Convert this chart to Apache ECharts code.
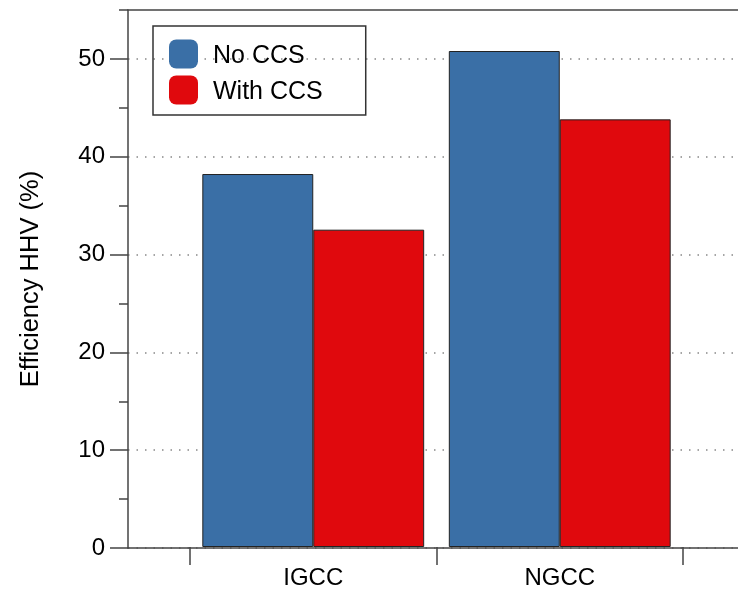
<!DOCTYPE html>
<html>
<head>
<meta charset="utf-8">
<script src="https://cdn.jsdelivr.net/npm/echarts@6/dist/echarts.min.js"></script>
<style>
html,body{margin:0;padding:0;background:#fff;}
#chart{width:738px;height:590px;}
</style>
</head>
<body>
<div id="chart"></div>
<script>
var categories = ['IGCC', 'NGCC'];
var seriesNames = ['No CCS', 'With CCS'];
var noCCS = [38.2, 50.8];
var withCCS = [32.5, 43.8];
var majorTicks = [0, 10, 20, 30, 40, 50];
var yName = 'Efficiency HHV (%)';

var FONT = 'Liberation Sans, Arial, Helvetica, sans-serif';
var AX = '#444';
var chart = echarts.init(document.getElementById('chart'));
chart.setOption({
  backgroundColor: '#fff',
  animation: false,
  textStyle: { fontFamily: FONT },
  grid: [
    { left: 128, right: 0, top: 10, bottom: 42 },
    { left: 190, right: 55, top: 10, bottom: 42 }
  ],
  legend: {
    orient: 'vertical',
    left: 153, top: 26,
    padding: [13, 43, 10, 16],
    borderColor: '#333', borderWidth: 1.5,
    itemWidth: 29, itemHeight: 29, itemGap: 6,
    icon: 'roundRect',
    itemStyle: { borderWidth: 0 },
    formatter: '{t|{name}}',
    textStyle: {
      fontSize: 25, color: '#000', fontFamily: FONT,
      rich: { t: { fontSize: 25, color: '#000', fontFamily: FONT, lineHeight: 25, padding: [5, 0, 0, 10] } }
    },
    data: seriesNames
  },
  xAxis: [
    { gridIndex: 0, type: 'value', min: 0, max: 1, position: 'bottom',
      axisLine: { show: true, onZero: false, lineStyle: { color: AX, width: 1.5 } },
      axisTick: { show: false }, axisLabel: { show: false }, splitLine: { show: false } },
    { gridIndex: 0, type: 'value', min: 0, max: 1, position: 'top',
      axisLine: { show: true, onZero: false, lineStyle: { color: AX, width: 1.5 } },
      axisTick: { show: false }, axisLabel: { show: false }, splitLine: { show: false } },
    { gridIndex: 1, type: 'category', data: categories, position: 'bottom',
      axisLine: { show: false },
      axisTick: { show: true, length: 18, lineStyle: { color: AX, width: 1.5 } },
      axisLabel: { fontSize: 24, color: '#000', margin: 19, fontFamily: FONT },
      splitLine: { show: false } }
  ],
  yAxis: [
    { gridIndex: 0, type: 'value', min: 0, max: 55, interval: 10, position: 'left',
      name: yName, nameLocation: 'middle', nameGap: 84,
      nameTextStyle: { fontSize: 25.5, color: '#000', fontFamily: FONT },
      axisLine: { show: true, lineStyle: { color: AX, width: 1.5 } },
      axisTick: { show: true, length: 18, customValues: majorTicks, lineStyle: { color: AX, width: 1.5 } },
      axisLabel: { fontSize: 24, color: '#000', margin: 23, customValues: majorTicks, fontFamily: FONT },
      splitLine: { show: true, lineStyle: { color: '#888', width: 1.5, type: [1.5, 7] } } },
    { gridIndex: 0, type: 'value', min: 0, max: 55, interval: 5, position: 'left',
      axisLine: { show: false },
      axisTick: { show: true, length: 9, lineStyle: { color: AX, width: 1.5 } },
      axisLabel: { show: false }, splitLine: { show: false } },
    { gridIndex: 1, type: 'value', min: 0, max: 55, show: false }
  ],
  series: [
    { name: seriesNames[0], type: 'bar', xAxisIndex: 2, yAxisIndex: 2, data: noCCS,
      barGap: '0%', barCategoryGap: '10%',
      itemStyle: { color: '#3a6fa6', borderColor: '#222', borderWidth: 1 } },
    { name: seriesNames[1], type: 'bar', xAxisIndex: 2, yAxisIndex: 2, data: withCCS,
      barGap: '0%', barCategoryGap: '10%',
      itemStyle: { color: '#e0090d', borderColor: '#222', borderWidth: 1 } }
  ]
});
</script>
</body>
</html>
